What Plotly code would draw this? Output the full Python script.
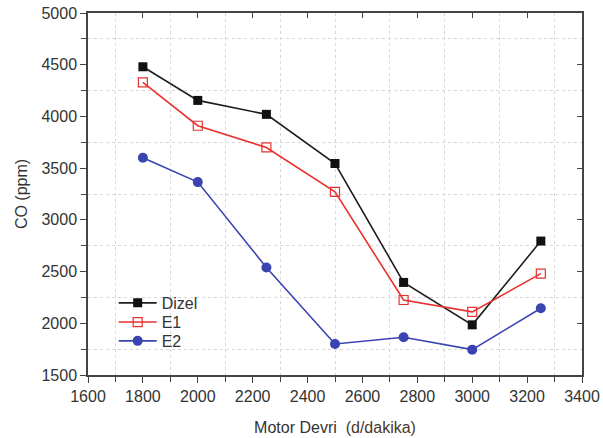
import plotly.graph_objects as go

rpm = [1800, 2000, 2250, 2500, 2750, 3000, 3250]
dizel = [4480, 4155, 4020, 3545, 2395, 1985, 2795]
e1 = [4330, 3910, 3700, 3270, 2225, 2110, 2480]
e2 = [3600, 3365, 2540, 1800, 1865, 1745, 2145]

fig = go.Figure()
fig.add_trace(go.Scatter(x=rpm, y=dizel, name="Dizel", mode="lines+markers", legend="legend",
                         line=dict(color="#1e1e1e", width=1.6),
                         marker=dict(symbol="square", size=9, color="#111111")))
fig.add_trace(go.Scatter(x=rpm, y=e1, name="E1", mode="lines+markers", legend="legend2",
                         line=dict(color="#e8312f", width=1.6),
                         marker=dict(symbol="square-open", size=9, color="#e8312f", line=dict(width=1.2))))
fig.add_trace(go.Scatter(x=rpm, y=e2, name="E2", mode="lines+markers", legend="legend3",
                         line=dict(color="#3a44b0", width=1.6),
                         marker=dict(symbol="circle", size=10, color="#3a44b0")))
# invisible trace to draw mirror axes
fig.add_trace(go.Scatter(x=[rpm[0]], y=[dizel[0]], xaxis="x2", yaxis="y2",
                         mode="markers", marker=dict(opacity=0), showlegend=False, hoverinfo="skip"))

axis_font = dict(family="Liberation Sans, Arial", size=16, color="#333333")
grid = dict(showgrid=True, gridcolor="#d8d8d8", griddash="dot", gridwidth=1)
leg = dict(x=0.052, xanchor="left", yanchor="middle", bgcolor="rgba(0,0,0,0)",
           font=dict(size=16, color="#333333"), itemwidth=38)
fig.update_layout(
    width=603, height=438,
    margin=dict(l=88, r=21, t=13, b=63),
    paper_bgcolor="white", plot_bgcolor="white",
    font=dict(family="Liberation Sans, Arial", size=16, color="#333333"),
    showlegend=True,
    legend=dict(y=0.199, **leg),
    legend2=dict(y=0.146, **leg),
    legend3=dict(y=0.094, **leg),
    xaxis=dict(range=[1600, 3400], dtick=200, tick0=1600, ticks="outside", ticklen=6,
               tickcolor="#444", linecolor="#444", linewidth=1.5, showline=True,
               showgrid=False, zeroline=False, tickfont=axis_font, automargin=False,
               title=dict(text="Motor Devri  <span style='color:#4a3828'>(d/dakika)</span>",
                          font=dict(size=16), standoff=18),
               minor=dict(dtick=100, ticks="outside", ticklen=5, tickcolor="#444", **grid)),
    yaxis=dict(range=[1500, 5000], dtick=500, tick0=1500, ticks="outside", ticklen=6,
               tickcolor="#444", linecolor="#444", linewidth=1.5, showline=True,
               showgrid=False, zeroline=False, tickfont=axis_font, automargin=False,
               title=dict(text="CO (ppm)", font=dict(size=16), standoff=10),
               minor=dict(dtick=250, ticks="outside", ticklen=5, tickcolor="#444", **grid)),
    xaxis2=dict(range=[1600, 3400], dtick=200, tick0=1600, overlaying="x", side="top",
                anchor="y2", ticks="inside", ticklen=5, tickcolor="#444", linecolor="#444",
                linewidth=1.5, showline=True, showgrid=False, zeroline=False,
                showticklabels=False, automargin=False),
    yaxis2=dict(range=[1500, 5000], dtick=500, tick0=1500, overlaying="y", side="right",
                anchor="x2", ticks="inside", ticklen=5, tickcolor="#444", linecolor="#444",
                linewidth=1.5, showline=True, showgrid=False, zeroline=False,
                showticklabels=False, automargin=False),
)

fig.write_html("out.html", config={"displayModeBar": False},
               post_script="document.body.style.margin='0';")
